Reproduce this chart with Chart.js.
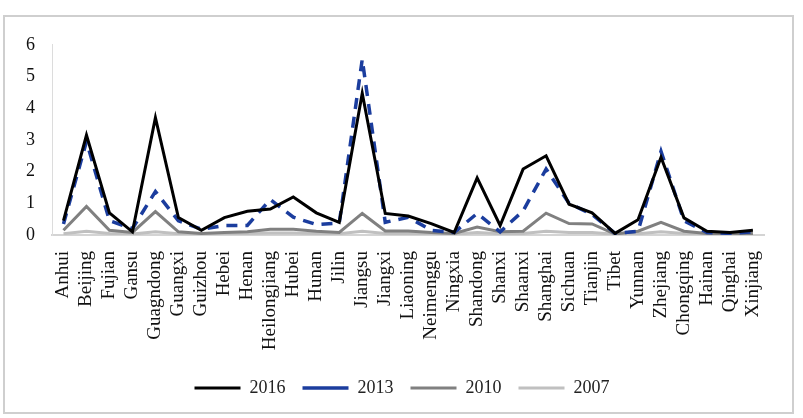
<!DOCTYPE html>
<html lang="en">
<head>
    <meta charset="UTF-8">
    <title>Provinces</title>
    <script src="https://cdn.jsdelivr.net/npm/chart.js"></script>
    <style>
        body { margin: 0; background: #fff; }
        #frame {
            position: absolute; left: 3px; top: 15px;
            width: 787px; height: 395px;
            border: 2px solid #cfcfcf;
        }
    </style>
</head>
<body>
    <div id="frame">
        <canvas id="chart" width="787" height="395"></canvas>
    </div>

    <script>
        // provinces on the x axis
        const provinces = ['Anhui', 'Beijing', 'Fujian', 'Gansu', 'Guagndong', 'Guangxi', 'Guizhou', 'Hebei',
            'Henan', 'Heilongjiang', 'Hubei', 'Hunan', 'Jilin', 'Jiangsu', 'Jiangxi', 'Liaoning', 'Neimenggu',
            'Ningxia', 'Shandong', 'Shanxi', 'Shaanxi', 'Shanghai', 'Sichuan', 'Tianjin', 'Tibet', 'Yunnan',
            'Zhejiang', 'Chongqing', 'Hainan', 'Qinghai', 'Xinjiang'];

        // values
        const y2016 = [0.45, 3.15, 0.7, 0.1, 3.7, 0.55, 0.15, 0.55, 0.75, 0.82, 1.2, 0.7, 0.4, 4.47, 0.68, 0.6,
            0.36, 0.08, 1.8, 0.3, 2.08, 2.5, 0.97, 0.7, 0.05, 0.48, 2.45, 0.54, 0.12, 0.08, 0.15];
        const y2013 = [0.35, 2.95, 0.45, 0.2, 1.37, 0.45, 0.18, 0.3, 0.3, 1.12, 0.56, 0.33, 0.38, 5.54, 0.4, 0.56,
            0.15, 0.08, 0.68, 0.1, 0.76, 2.08, 1.0, 0.65, 0.05, 0.12, 2.64, 0.45, 0.08, 0.05, 0.1];
        const y2010 = [0.15, 0.9, 0.15, 0.08, 0.74, 0.1, 0.05, 0.08, 0.1, 0.18, 0.18, 0.12, 0.08, 0.68, 0.13, 0.13,
            0.08, 0.05, 0.25, 0.1, 0.12, 0.69, 0.36, 0.35, 0.03, 0.12, 0.4, 0.12, 0.05, 0.03, 0.05];
        const y2007 = [0.04, 0.12, 0.05, 0.03, 0.1, 0.04, 0.03, 0.04, 0.05, 0.06, 0.06, 0.05, 0.04, 0.12, 0.05, 0.05,
            0.03, 0.02, 0.08, 0.04, 0.05, 0.12, 0.08, 0.08, 0.02, 0.04, 0.1, 0.05, 0.02, 0.02, 0.03];
        const yTicks = [0, 1, 2, 3, 4, 5, 6];

        const serif = 'Liberation Serif';

        const ctx = document.getElementById('chart').getContext('2d');

        // the legend in the original sits a little right of centre
        const nudgeLegend = {
            id: 'nudgeLegend',
            afterLayout(chart) {
                chart.legend.left += 12;
                chart.legend.right += 12;
            }
        };

        new Chart(ctx, {
            type: 'line',
            data: {
                labels: provinces,
                datasets: [
                    { label: '2016', data: y2016, borderColor: '#000000', borderWidth: 3 },
                    { label: '2013', data: y2013, borderColor: '#1b3d9e', borderWidth: 3.5, borderDash: [11, 8] },
                    { label: '2010', data: y2010, borderColor: '#808080', borderWidth: 3 },
                    { label: '2007', data: y2007, borderColor: '#c0c0c0', borderWidth: 3 }
                ]
            },
            plugins: [nudgeLegend],
            options: {
                responsive: false,
                animation: false,
                elements: {
                    point: { radius: 0 },
                    line: { tension: 0, fill: false, borderCapStyle: 'butt' }
                },
                layout: { autoPadding: false, padding: { top: 21, right: 17, bottom: 5, left: 0 } },
                scales: {
                    x: {
                        offset: true,
                        grid: { display: false, drawTicks: false },
                        border: { display: true, color: '#d4d4d4', width: 2 },
                        ticks: {
                            autoSkip: false,
                            maxRotation: 90,
                            minRotation: 90,
                            padding: 16,
                            color: '#111',
                            font: { family: serif, size: 19 }
                        },
                        afterFit: function (scale) { scale.height = 127; }
                    },
                    y: {
                        min: 0,
                        max: 6,
                        grid: { display: false, drawTicks: false },
                        border: { display: true, color: '#dcdcdc', width: 1 },
                        afterBuildTicks: function (scale) {
                            scale.ticks = yTicks.map(v => ({ value: v }));
                        },
                        ticks: {
                            padding: 17,
                            color: '#111',
                            font: { family: serif, size: 18 }
                        },
                        afterFit: function (scale) { scale.width = 47; }
                    }
                },
                plugins: {
                    tooltip: { enabled: false },
                    legend: {
                        position: 'bottom',
                        labels: {
                            usePointStyle: true,
                            pointStyle: 'line',
                            pointStyleWidth: 46,
                            padding: 17,
                            color: '#222',
                            font: { family: serif, size: 18 }
                        }
                    }
                }
            }
        });
    </script>
</body>
</html>
